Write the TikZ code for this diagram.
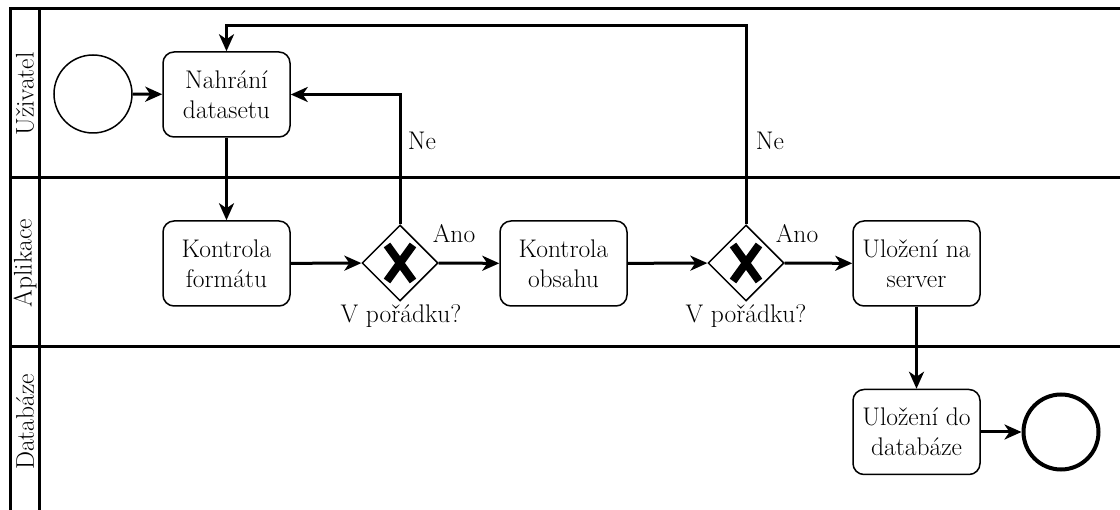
\documentclass[tikz,border=0pt]{standalone}
\usepackage{fontspec}
\usetikzlibrary{arrows.meta,shapes.geometric}
\begin{document}
\begin{tikzpicture}[x=1pt,y=-1pt,
  every node/.style={font=\fontsize{25.5}{30}\selectfont},
  lane/.style={line width=3pt},
  task/.style={draw,line width=1.5pt,rounded corners=11pt,minimum width=127pt,minimum height=85pt,align=center,inner sep=1pt},
  gate/.style={draw,diamond,line width=1.5pt,minimum width=76pt,minimum height=76pt,inner sep=0pt},
  startev/.style={draw,circle,line width=1.5pt,minimum size=78pt,inner sep=0pt},
  endev/.style={draw,circle,line width=4pt,minimum size=75pt,inner sep=0pt},
  flow/.style={line width=3pt,-{Stealth[length=17pt,width=15pt,inset=5pt]}},
  lanetitle/.style={rotate=90,anchor=center},
  lbl/.style={inner sep=0pt}
]
\useasboundingbox (0,0) rectangle (1120,510);

% pool and lane frame
\draw[lane] (1125,9) -- (10,9) -- (10,515);
\draw[lane] (39,9) -- (39,515);
\draw[lane] (10,178) -- (1125,178);
\draw[lane] (10,347) -- (1125,347);

\node[lanetitle] (l1) at (25,94) {Uživatel};
\node[lanetitle] (l2) at (25,263) {Aplikace};
\node[lanetitle] (l3) at (25,422) {Databáze};

% events, tasks and gateways
\node[startev] (start) at (93,94) {};
\node[task] (upload) at (226.5,94.5) {Nahrání\\datasetu};
\node[task] (fmt) at (226.5,263.5) {Kontrola\\formátu};
\node[gate] (g1) at (400,263) {};
\node[task] (content) at (563.5,263.5) {Kontrola\\obsahu};
\node[gate] (g2) at (746,263) {};
\node[task] (server) at (916.5,263.5) {Uložení na\\server};
\node[task] (db) at (916.5,432) {Uložení do\\databáze};
\node[endev] (end) at (1061,432) {};

% exclusive gateway markers
\foreach \g in {g1,g2}{
  \draw[line width=8pt] ([shift={(-13,-18)}]\g.center) -- ([shift={(13,18)}]\g.center);
  \draw[line width=8pt] ([shift={(-13,18)}]\g.center) -- ([shift={(13,-18)}]\g.center);
}

% gateway labels
\node[lbl] (q1) at (401,316) {V pořádku?};
\node[lbl] (q2) at (746,316) {V pořádku?};
\node[lbl] (a1) at (454,234) {Ano};
\node[lbl] (a2) at (797,234) {Ano};
\node[lbl] (n1) at (422,141) {Ne};
\node[lbl] (n2) at (770,141) {Ne};

% sequence flows
\draw[flow] (start) -- (upload);
\draw[flow] (upload) -- (fmt);
\draw[flow] (fmt) -- (g1);
\draw[flow] (g1) -- (content);
\draw[flow] (g1.north) |- (upload.east);
\draw[flow] (content) -- (g2);
\draw[flow] (g2) -- (server);
\coordinate (loop) at (746,26);
\draw[flow] (g2.north) -- (loop) -| (upload.north);
\draw[flow] (server) -- (db);
\draw[flow] (db) -- (end);
\end{tikzpicture}
\end{document}
